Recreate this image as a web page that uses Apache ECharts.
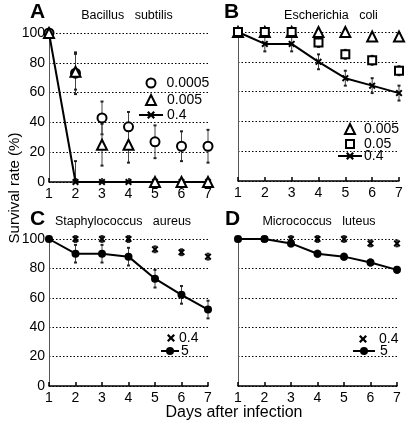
<!DOCTYPE html>
<html><head><meta charset="utf-8">
<script src="https://cdn.jsdelivr.net/npm/echarts@6/dist/echarts.min.js"></script>
<style>html,body{margin:0;padding:0;background:#fff}#c{width:407px;height:428px}</style>
</head><body><div id="c"></div>
<script>
const days = [1, 2, 3, 4, 5, 6, 7];
const yTicks = [0, 20, 40, 60, 80, 100];
// Panel A: Bacillus subtilis
const aLow = [100, 73, 43, 37, 27, 24, 24];
const aLowErr = [0, 14, 11, 10, 11, 10, 11];
const aMid = [100, 74, 25, 25, 0, 0, 0];
const aMidErr = [0, 12, 14, 12, 0, 0, 0];
const aHigh = [100, 0, 0, 0, 0, 0, 0];
const aHighErr = [0, 14, 0, 0, 0, 0, 0];
// Panel B: Escherichia coli
const bLow = [100, 100, 100, 100, 100, 97, 97];
const bLowErr = [0, 2, 2, 2, 1, 2, 2];
const bMid = [100, 100, 100, 93, 85, 81, 74];
const bMidErr = [0, 0, 0, 3, 3, 3, 3];
const bHigh = [100, 92, 92, 80, 69, 64, 59];
const bHighErr = [0, 5, 5, 5, 5, 5, 5];
// Panel C: Staphylococcus aureus
const cLow = [100, 100, 100, 100, 93, 91, 88];
const cLowErr = [0, 2, 2, 2, 2, 2, 2];
const cHigh = [100, 90, 90, 88, 73, 62, 52];
const cHighErr = [0, 6, 6, 6, 6, 6, 6];
// Panel D: Micrococcus luteus
const dLow = [100, 100, 100, 100, 100, 97, 97];
const dLowErr = [0, 1, 2, 2, 2, 2, 2];
const dHigh = [100, 100, 97, 90, 88, 84, 79];
const dHighErr = [0, 1, 2, 2, 2, 2, 2];

const panelTitles = ['Bacillus   subtilis', 'Escherichia   coli', 'Staphylococcus   aureus', 'Micrococcus   luteus'];
const panelLetters = ['A', 'B', 'C', 'D'];

const FONT = 'Liberation Sans, Arial, sans-serif';
const XSYM = 'path://M0,2 L2,0 L5,3 L8,0 L10,2 L7,5 L10,8 L8,10 L5,7 L2,10 L0,8 L3,5 Z';

const grids = [
  {left: 49, top: 33, width: 159, height: 149},
  {left: 238, top: 32, width: 161, height: 149},
  {left: 49, top: 239, width: 159, height: 147},
  {left: 238, top: 239, width: 159, height: 147}
];

function pack(vals, errs) { return days.map((d, i) => [d, vals[i], errs[i]]); }

function errSeries(g, vals, errs) {
  return {
    type: 'custom', xAxisIndex: g, yAxisIndex: g, z: 1, silent: true,
    data: pack(vals, errs),
    renderItem: function (params, api) {
      const x = api.value(0), y = api.value(1), e = api.value(2);
      if (!e) return null;
      const top = api.coord([x, Math.min(y + e, 104)]);
      const bot = api.coord([x, Math.max(y - e, 0)]);
      const st = {stroke: '#444', lineWidth: 1};
      const capSt = {stroke: '#222', lineWidth: 2};
      return {type: 'group', children: [
        {type: 'line', shape: {x1: top[0], y1: top[1], x2: bot[0], y2: bot[1]}, style: st},
        {type: 'line', shape: {x1: top[0] - 1.5, y1: top[1], x2: top[0] + 1.5, y2: top[1]}, style: capSt},
        {type: 'line', shape: {x1: bot[0] - 1.5, y1: bot[1], x2: bot[0] + 1.5, y2: bot[1]}, style: capSt}
      ]};
    }
  };
}

function scat(g, name, vals, symbol, size, z) {
  const empty = symbol.indexOf('empty') === 0;
  return {
    type: 'scatter', name: name, xAxisIndex: g, yAxisIndex: g, z: z || 3,
    symbol: symbol, symbolSize: size,
    data: days.map((d, i) => [d, vals[i]]),
    itemStyle: empty ? {color: '#000', borderColor: '#000', borderWidth: 1.8, opacity: 1} : {color: '#000', opacity: 1}
  };
}
function line(g, name, vals, symbol, size, z) {
  return {
    type: 'line', name: name, xAxisIndex: g, yAxisIndex: g, z: z || 2,
    symbol: symbol, symbolSize: size, showSymbol: true,
    data: days.map((d, i) => [d, vals[i]]),
    lineStyle: {color: '#000', width: 2},
    itemStyle: {color: '#000', borderWidth: 0, opacity: 1}
  };
}

const xAxes = grids.map((_, i) => ({
  type: 'value', gridIndex: i, min: days[0], max: days[days.length - 1], interval: 1,
  axisLine: {show: true, lineStyle: {color: '#000', width: 1.5}},
  axisTick: {show: true, inside: true, length: 4, lineStyle: {color: '#000', width: 1.5}},
  axisLabel: {fontSize: 14, color: '#000', margin: 5, fontFamily: FONT},
  splitLine: {show: false}
}));
const yAxes = grids.map((_, i) => ({
  type: 'value', gridIndex: i, min: yTicks[0], max: yTicks[yTicks.length - 1], interval: yTicks[1] - yTicks[0],
  axisLine: {show: true, lineStyle: {color: '#555', width: 1}},
  axisTick: {show: false},
  axisLabel: {show: i % 2 === 0, fontSize: 14, color: '#000', margin: 4, fontFamily: FONT},
  splitLine: {show: true, lineStyle: {type: [1.5, 2], color: '#000', width: 1}}
}));

function legendRow(name, left, top, w, h, pad) {
  return {
    data: [name], left: left, top: top, orient: 'vertical', padding: 0,
    itemWidth: w, itemHeight: h, selectedMode: false,
    formatter: n => n.split('|')[1],
    textStyle: {fontSize: 14, color: '#000', fontFamily: FONT, lineHeight: 14, padding: [0, 0, 0, pad]}
  };
}

const titles = [];
const titlePos = [[127, 9], [331, 9], [123, 215], [319, 215]];
const letterPos = [[30, 2], [224, 2], [30, 209], [225, 209]];
panelTitles.forEach((t, i) => {
  titles.push({text: t, left: titlePos[i][0], top: titlePos[i][1], textAlign: 'center', padding: 0,
    textStyle: {fontSize: 12.5, fontWeight: 'normal', color: '#000', fontFamily: FONT}});
  titles.push({text: panelLetters[i], left: letterPos[i][0], top: letterPos[i][1], padding: 0,
    textStyle: {fontSize: 21, fontWeight: 'bold', color: '#000', fontFamily: FONT}});
});
titles.push({text: 'Days after infection', left: 234, top: 405, textAlign: 'center', padding: 0,
  textStyle: {fontSize: 16, fontWeight: 'normal', color: '#000', fontFamily: FONT}});

const option = {
  animation: false,
  backgroundColor: '#fff',
  title: titles,
  grid: grids,
  xAxis: xAxes,
  yAxis: yAxes,
  legend: [
    legendRow('A|0.0005', 145.5, 76, 9, 9, 6),
    legendRow('A|0.005', 145, 93, 10, 10, 6),
    legendRow('A|0.4', 138, 108, 24, 10, -1),
    legendRow('B|0.005', 344, 122, 10, 10, 4),
    legendRow('B|0.05', 345, 137, 8, 8, 5),
    legendRow('B|0.4', 337, 149, 24, 10, -3),
    legendRow('C|0.4', 167, 331, 8, 8, -1),
    legendRow('C|5', 160, 344, 18, 10, -3),
    legendRow('D|0.4', 359, 332, 8, 8, 7),
    legendRow('D|5', 352, 344, 22, 10, 0)
  ],
  graphic: [{
    type: 'text', x: 15, y: 188, rotation: Math.PI / 2,
    style: {text: 'Survival rate (%)', fontSize: 15, fill: '#000', fontFamily: FONT, align: 'center', verticalAlign: 'middle'}
  }],
  series: [
    errSeries(0, aLow, aLowErr), errSeries(0, aMid, aMidErr), errSeries(0, aHigh, aHighErr),
    scat(0, 'A|0.0005', aLow, 'emptyCircle', 9),
    scat(0, 'A|0.005', aMid, 'emptyTriangle', 10),
    line(0, 'A|0.4', aHigh, XSYM, 7),
    errSeries(1, bLow, bLowErr), errSeries(1, bMid, bMidErr), errSeries(1, bHigh, bHighErr),
    scat(1, 'B|0.005', bLow, 'emptyTriangle', 10),
    scat(1, 'B|0.05', bMid, 'emptyRect', 8),
    line(1, 'B|0.4', bHigh, XSYM, 7),
    errSeries(2, cLow, cLowErr), errSeries(2, cHigh, cHighErr),
    scat(2, 'C|0.4', cLow, XSYM, 7, 2),
    line(2, 'C|5', cHigh, 'circle', 8, 3),
    errSeries(3, dLow, dLowErr), errSeries(3, dHigh, dHighErr),
    scat(3, 'D|0.4', dLow, XSYM, 7, 2),
    line(3, 'D|5', dHigh, 'circle', 8, 3)
  ]
};
const chart = echarts.init(document.getElementById('c'), null, {renderer: 'canvas'});
chart.setOption(option);
</script></body></html>
